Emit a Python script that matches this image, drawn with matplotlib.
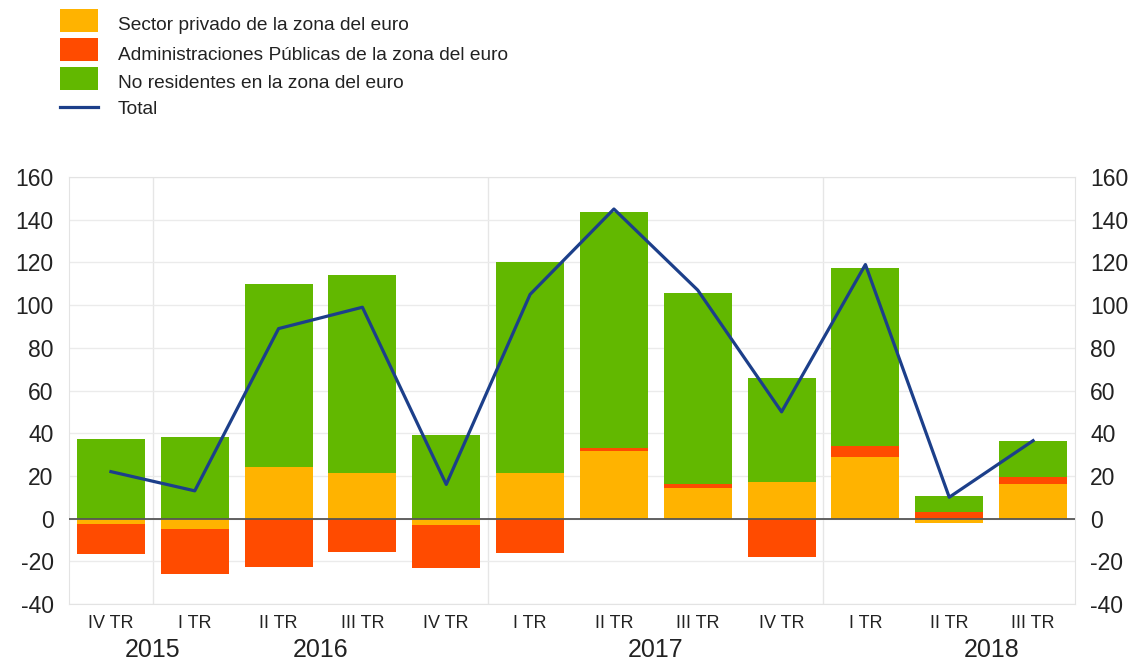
import numpy as np
import matplotlib
matplotlib.use("Agg")
import matplotlib.pyplot as plt
from matplotlib.patches import Rectangle
from matplotlib.lines import Line2D

plt.rcParams["font.family"] = ["Liberation Sans", "DejaVu Sans"]
plt.rcParams["axes.unicode_minus"] = False

# ── Data (mm EUR, quarterly flows) ───────────────────────────────────────────
quarters = ["IV TR", "I TR", "II TR", "III TR", "IV TR", "I TR",
            "II TR", "III TR", "IV TR", "I TR", "II TR", "III TR"]
years = ["2015", "2016", "2017", "2018"]
year_label_pos = [0.5, 2.5, 6.5, 10.5]

sector_privado = [-2.5, -5, 24, 21.5, -3, 21.5, 31.5, 14.5, 17, 29, -2, 16]
admin_publicas = [-14, -21, -22.5, -15.5, -20, -16, 1.5, 1.7, -18, 5, 3, 3.5]
no_residentes = [37.5, 38, 86, 92.5, 39, 98.5, 110.5, 89.5, 49, 83.5, 7.5, 17]
total = [22, 13, 89, 99, 16, 105, 145, 107, 50, 119, 10, 36.5]

labels = ["Sector privado de la zona del euro",
          "Administraciones Públicas de la zona del euro",
          "No residentes en la zona del euro"]
colors = ["#FFB300", "#FF4B00", "#62B800"]
line_color = "#1C3F8A"

W, H = 1138, 664
x = np.arange(len(quarters))

fig = plt.figure(figsize=(W / 100, H / 100), dpi=100)
ax = fig.add_axes([69 / W, 1 - 604 / H, (1075 - 69) / W, (604 - 177) / H])

# stacked bars, positives up and negatives down
pos_base = np.zeros(len(x))
neg_base = np.zeros(len(x))
for vals, c in zip([sector_privado, admin_publicas, no_residentes], colors):
    v = np.array(vals, dtype=float)
    bottom = np.where(v >= 0, pos_base, neg_base)
    ax.bar(x, v, bottom=bottom, width=0.81, color=c, zorder=3)
    pos_base += np.where(v >= 0, v, 0)
    neg_base += np.where(v < 0, v, 0)

ax.plot(x, total, color=line_color, lw=2.3, zorder=5)
ax.axhline(0, color="#555555", lw=1.3, zorder=4)

# year separators
for i, q in enumerate(quarters):
    if q == "I TR":
        ax.axvline(i - 0.5, color="#E6E6E6", lw=1, zorder=1)

ax.set_xlim(-0.5, len(x) - 0.5)
ax.set_ylim(-40, 160)
ax.set_yticks(np.arange(-40, 161, 20))
ax.yaxis.grid(True, color="#EBEBEB", lw=1, zorder=0)
ax.set_xticks(x)
ax.set_xticklabels(quarters, fontsize=13, color="#222222")
ax.tick_params(axis="x", length=0, pad=8)
ax.tick_params(axis="y", length=0, labelsize=16.5, colors="#222222", pad=11,
               labelright=True)
for s in ax.spines.values():
    s.set_color("#E3E3E3")

for yr, p in zip(years, year_label_pos):
    ax.text(p, -46 / 427, yr, transform=ax.get_xaxis_transform(),
            ha="center", va="center", fontsize=18, color="#222222")

# legend block above the plot (pixel layout, y measured from the top)
rows_y = [9, 38, 67]
for c, lab, ty in zip(colors, labels, rows_y):
    fig.add_artist(Rectangle((60 / W, 1 - (ty + 23) / H), 38 / W, 23 / H,
                             transform=fig.transFigure, facecolor=c,
                             edgecolor="none"))
    fig.text(118 / W, 1 - (ty + 17) / H, lab, ha="left", va="center",
             fontsize=13.8, color="#222222")
fig.add_artist(Line2D([60 / W, 98 / W], [1 - 107 / H, 1 - 107 / H],
                      transform=fig.transFigure, color=line_color, lw=2.3))
fig.text(118 / W, 1 - 110 / H, "Total", ha="left", va="center",
         fontsize=13.8, color="#222222")

fig.savefig("out.png", dpi=100)
